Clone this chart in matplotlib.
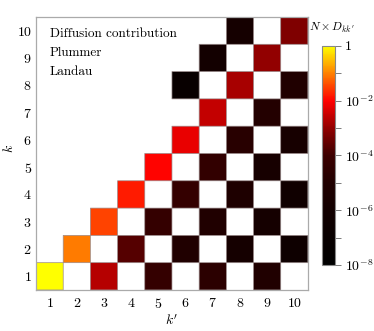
import numpy as np
import matplotlib
matplotlib.use("Agg")
import matplotlib.pyplot as plt
from matplotlib.colors import LinearSegmentedColormap, LogNorm
from matplotlib.ticker import NullFormatter

plt.rcParams['font.family'] = 'serif'
plt.rcParams['font.serif'] = ['cmr10', 'DejaVu Serif']
plt.rcParams['mathtext.fontset'] = 'cm'
plt.rcParams['axes.unicode_minus'] = False
plt.rcParams['axes.formatter.use_mathtext'] = True

# (k, k') cells and their values N x D_kk'
k_idx  = [1, 1, 1, 1, 1,
          2, 2, 2, 2, 2,
          3, 3, 3, 3,
          4, 4, 4, 4,
          5, 5, 5,
          6, 6, 6,
          7, 7,
          8, 8, 8,
          9, 9,
          10, 10]
kp_idx = [1, 3, 5, 7, 9,
          2, 4, 6, 8, 10,
          3, 5, 7, 9,
          4, 6, 8, 10,
          5, 7, 9,
          6, 8, 10,
          7, 9,
          6, 8, 10,
          7, 9,
          8, 10]
values = [1.0, 2.2e-3, 5e-5, 2.5e-5, 1e-5,
          8.9e-2, 2e-4, 1e-5, 1.6e-6, 4e-7,
          3.2e-2, 5e-5, 1e-5, 1.6e-6,
          1.6e-2, 5e-5, 8e-6, 6.3e-7,
          1e-2, 4.5e-5, 2.5e-6,
          6.3e-3, 2e-5, 2.5e-6,
          2.8e-3, 1.3e-5,
          1e-7, 1.6e-3, 1e-5,
          1.3e-6, 1e-3,
          1.6e-6, 6.3e-4]

labels = ["Diffusion contribution", "Plummer", "Landau"]
cb_ticks = [1, 1e-2, 1e-4, 1e-6, 1e-8]
cb_ticklabels = ['1', r'$10^{-2}$', r'$10^{-4}$', r'$10^{-6}$', r'$10^{-8}$']
cb_minor = [1e-1, 1e-3, 1e-5, 1e-7]

# black -> dark red -> red -> orange -> yellow, nodes in log10 space (-8..0)
nodes = [(-8, '#000000'), (-7, '#080000'), (-6, '#120000'), (-5, '#200000'),
         (-4, '#3c0000'), (-3, '#900000'), (-2, '#ff0000'), (-1, '#ff8000'),
         (0, '#ffff00')]
cmap = LinearSegmentedColormap.from_list(
    'hotyellow', [((v + 8) / 8, c) for v, c in nodes])

M = np.full((10, 10), np.nan)
for k, kp, v in zip(k_idx, kp_idx, values):
    M[k - 1, kp - 1] = v
M = np.ma.masked_invalid(M)

fig = plt.figure(figsize=(3.74, 3.31), dpi=100)
ax = fig.add_axes([0.0963, 0.1239, 0.727, 0.8248])
edges = np.arange(0.5, 11.5, 1)
pc = ax.pcolor(edges, edges, M, cmap=cmap, norm=LogNorm(1e-8, 1),
               edgecolors='#9a8a8a', linewidth=0.5)
ax.set_xlim(0.5, 10.5)
ax.set_ylim(0.5, 10.5)
ax.set_xticks(range(1, 11))
ax.set_yticks(range(1, 11))
ax.tick_params(axis='x', length=0, labelsize=10, pad=5)
ax.tick_params(axis='y', length=0, labelsize=10, pad=3)
for s in ax.spines.values():
    s.set_color('#aaaaaa')
    s.set_linewidth(0.9)
ax.set_xlabel(r"$k'$", fontsize=10)
ax.xaxis.set_label_coords(0.5, -0.085)
ax.set_ylabel(r"$k$", fontsize=10)
ax.yaxis.set_label_coords(-0.075, 0.52)

for i, t in enumerate(labels):
    ax.text(0.05, 0.938 - 0.07 * i, t, transform=ax.transAxes,
            fontsize=9.5, va='center', ha='left')

cax = fig.add_axes([0.861, 0.199, 0.0348, 0.6625])
cb = fig.colorbar(pc, cax=cax)
cb.outline.set_edgecolor('#888888')
cb.outline.set_linewidth(0.8)
cb.set_ticks(cb_ticks, labels=cb_ticklabels)
cb.ax.set_yticks(cb_minor, minor=True)
cb.ax.yaxis.set_minor_formatter(NullFormatter())
cb.ax.tick_params(which='major', length=4, width=0.6, color='#666666',
                  labelsize=10, pad=3)
cb.ax.tick_params(which='minor', length=4, width=0.6, color='#666666')
fig.text(0.887, 0.915, r"$N \times D_{kk'}$", fontsize=8.5, ha='center',
         va='center')

fig.savefig('out.png', dpi=100)
